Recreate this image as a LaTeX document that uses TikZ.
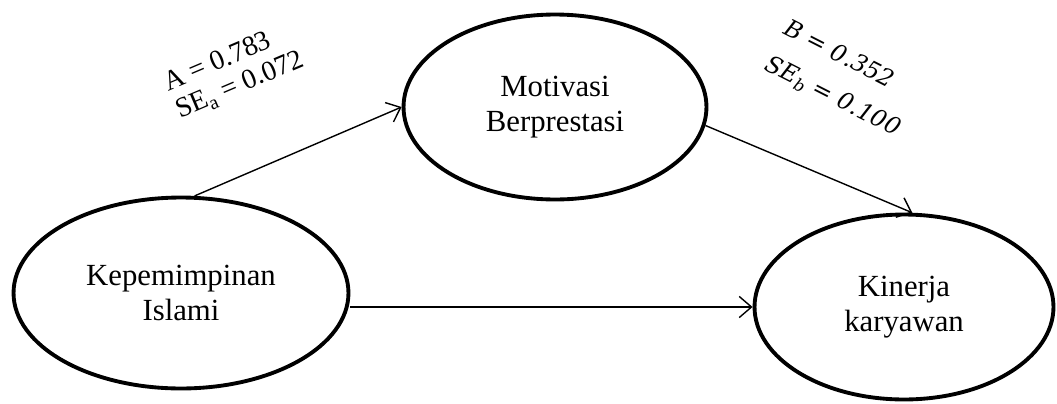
\documentclass[tikz,border=0pt]{standalone}
\usepackage{fontspec}
\setmainfont{Liberation Serif}
\newfontfamily\coeffont{DejaVu Serif}
\usetikzlibrary{shapes.geometric, arrows.meta}

\begin{document}
\begin{tikzpicture}[x=0.02cm, y=-0.02cm,
    latent/.style={ellipse, draw, line width=2.2pt, align=center,
        font=\fontsize{17.5}{19.5}\selectfont},
    pathline/.style={-{Straight Barb[length=7pt, width=12pt]}, line width=0.8pt}]
    \useasboundingbox (0,0) rectangle (1057,403);

    % Latent variables
    \node (kep) at (181,293) [latent, minimum width=6.7cm, minimum height=3.82cm] {Kepemimpinan\\Islami};
    \node (mot) at (555,107) [latent, minimum width=6.06cm, minimum height=3.7cm] {Motivasi\\Berprestasi};
    \node (kin) at (904,307) [latent, minimum width=5.98cm, minimum height=3.7cm] {Kinerja\\karyawan};

    % Paths
    \draw[pathline] (kep.82) -- (mot.west);
    \draw[pathline] (mot.-7) -- (kin.85);
    \draw[pathline] (kep.east |- kin.west) -- (kin.west);

    % Coefficients a and b
    \node (coefa) at (234,72) [rotate=23, align=left, font=\fontsize{16}{17}\selectfont] {A = 0.783\\SE\textsubscript{a} = 0.072};
    \node (coefb) at (842,79) [rotate=-27, align=left, font=\coeffont\itshape\fontsize{13.5}{23}\selectfont] {B = 0.352\\SE\textsubscript{b} = 0.100};
\end{tikzpicture}
\end{document}
